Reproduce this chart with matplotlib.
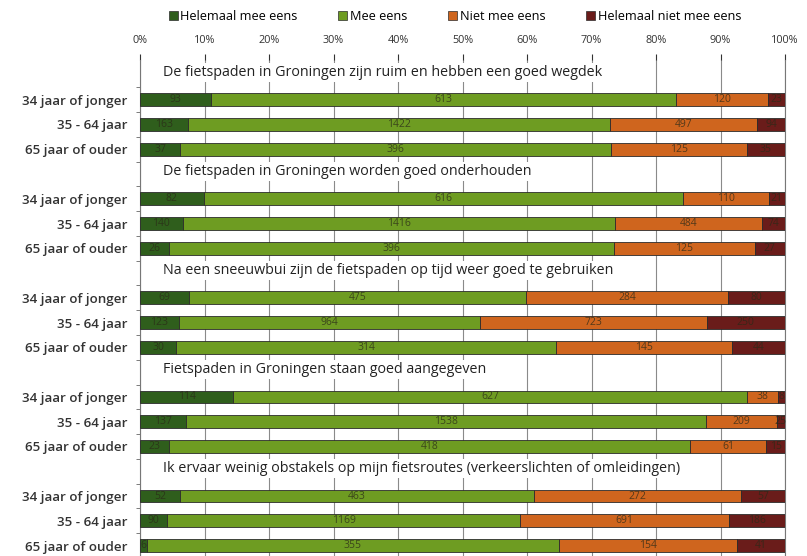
import matplotlib.pyplot as plt
from matplotlib.patches import Patch
from matplotlib.ticker import FixedLocator, PercentFormatter
import numpy as np

plt.rcParams['font.family'] = ['Open Sans', 'DejaVu Sans']

stellingen = [
    "De fietspaden in Groningen zijn ruim en hebben een goed wegdek",
    "De fietspaden in Groningen worden goed onderhouden",
    "Na een sneeuwbui zijn de fietspaden op tijd weer goed te gebruiken",
    "Fietspaden in Groningen staan goed aangegeven",
    "Ik ervaar weinig obstakels op mijn fietsroutes (verkeerslichten of omleidingen)",
]
leeftijden = ["34 jaar of jonger", "35 - 64 jaar", "65 jaar of ouder"]

# aantallen per stelling x leeftijdsgroep (5 x 3 rijen)
helemaal_mee = [93, 163, 37, 82, 140, 26, 69, 123, 30, 114, 137, 23, 52, 90, 6]
mee = [613, 1422, 396, 616, 1416, 396, 475, 964, 314, 627, 1538, 418, 463, 1169, 355]
niet_mee = [120, 497, 125, 110, 484, 125, 284, 723, 145, 38, 209, 61, 272, 691, 154]
helemaal_niet = [23, 94, 35, 21, 74, 27, 80, 250, 44, 8, 25, 15, 57, 186, 41]

categorieen = ["Helemaal mee eens", "Mee eens", "Niet mee eens", "Helemaal niet mee eens"]
kleuren = ['#2f5e1c', '#6e9c22', '#cf651e', '#6a1c1a']

data = np.array([helemaal_mee, mee, niet_mee, helemaal_niet], dtype=float)
pct = data / data.sum(axis=0) * 100

# elke stelling: een titelregel + drie balken
posities = []
for g in range(len(stellingen)):
    for r in range(len(leeftijden)):
        posities.append(g * 4 + 1 + r)
posities = np.array(posities)

fig = plt.figure(figsize=(8.07, 5.56), dpi=100)
ax = fig.add_axes([140 / 807, 0.0, 645 / 807, 1 - 60 / 556])

links = np.zeros(len(posities))
for i in range(4):
    ax.barh(posities, pct[i], left=links, height=0.52, color=kleuren[i],
            edgecolor='#2b2b2b', linewidth=0.6, zorder=3)
    for y, l, w, n in zip(posities, links, pct[i], data[i]):
        ax.text(l + w / 2, y, f"{int(n)}", ha='center', va='center',
                fontsize=7.5, color='#2a2a18', alpha=0.75, zorder=4)
    links += pct[i]

for g, titel in enumerate(stellingen):
    ax.text(3.6, g * 4 - 0.1, titel, ha='left', va='center', fontsize=10.3,
            color='#222222', zorder=4,
            bbox=dict(facecolor='white', edgecolor='none', pad=1.5))

ax.set_xlim(0, 100)
ax.set_ylim(19.42, -0.6)
ax.xaxis.tick_top()
ax.set_xticks(np.arange(0, 101, 10))
ax.xaxis.set_major_formatter(PercentFormatter(decimals=0))
ax.tick_params(axis='x', labelsize=7.8, colors='#333333', length=4, pad=6)
ax.set_yticks(posities)
ax.set_yticklabels(leeftijden * len(stellingen), fontsize=9.6,
                   fontweight='semibold', color='#333333')
ax.tick_params(axis='y', length=0, pad=9)
ax.yaxis.set_minor_locator(FixedLocator(np.arange(0.5, 19.5, 1)))
ax.tick_params(axis='y', which='minor', length=3, color='#666666')

ax.grid(axis='x', color='#8a8a8a', linewidth=0.8, zorder=0)
for kant in ['top', 'bottom']:
    ax.spines[kant].set_visible(False)
ax.spines['left'].set_color('#777777')
ax.spines['right'].set_color('#777777')

handles = [Patch(facecolor=c, edgecolor='#2b2b2b', linewidth=0.5) for c in kleuren]
fig.legend(handles, categorieen, loc='center', bbox_to_anchor=(455 / 807, 1 - 16 / 556),
           ncol=4, frameon=False, fontsize=9.2, handlelength=0.7, handleheight=0.7,
           handletextpad=0.2, columnspacing=3.2)

fig.savefig('out.png', dpi=100)
